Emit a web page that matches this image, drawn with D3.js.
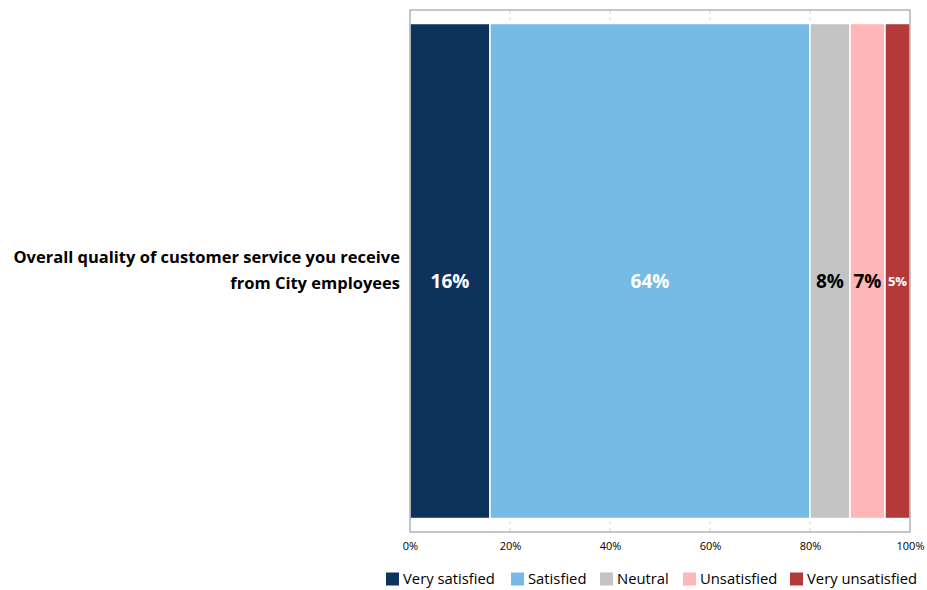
<!DOCTYPE html>
<html>
<head>
<meta charset="utf-8">
<script src="https://cdn.jsdelivr.net/npm/d3@7"></script>
<style>
  html, body { margin: 0; padding: 0; background: #fff; }
  svg { display: block; font-family: "Open Sans", "Noto Sans", sans-serif; }
</style>
</head>
<body>
<svg id="chart" width="927" height="590"></svg>
<script>
// Survey question (one stacked bar)
const questions = ["Overall quality of customer service you receive from City employees"];
const questionLines = [["Overall quality of customer service you receive", "from City employees"]];

// Response categories, shares (%) and colours
const responses = ["Very satisfied", "Satisfied", "Neutral", "Unsatisfied", "Very unsatisfied"];
const shares = [16, 64, 8, 7, 5];
const colors = ["#0d335d", "#75bbe5", "#c4c4c4", "#ffb6b6", "#b43a3a"];
const labelColors = ["#ffffff", "#ffffff", "#000000", "#000000", "#ffffff"];
const labelSizes = [19, 19, 19, 19, 13];

// Axis ticks
const tickValues = [0, 20, 40, 60, 80, 100];

const svg = d3.select("#chart");
const plot = { left: 410, right: 910, top: 10, bottom: 532 };

const x = d3.scaleLinear().domain([0, 100]).range([plot.left, plot.right]);
const y = d3.scaleBand().domain(questions).range([plot.top, plot.bottom]).padding(0.0265);

// Dashed vertical gridlines
svg.append("g")
  .selectAll("line")
  .data(tickValues.slice(1, -1))
  .join("line")
  .attr("x1", d => x(d)).attr("x2", d => x(d))
  .attr("y1", plot.top).attr("y2", plot.bottom)
  .attr("stroke", "#d9d9d9")
  .attr("stroke-width", 1)
  .attr("stroke-dasharray", "4,3");

// Stack the shares
const stacked = [];
let acc = 0;
shares.forEach((v, i) => { stacked.push({ key: responses[i], v, x0: acc, x1: acc + v, i }); acc += v; });

const q = questions[0];
svg.append("g")
  .selectAll("rect")
  .data(stacked)
  .join("rect")
  .attr("x", d => x(d.x0))
  .attr("width", d => x(d.x1) - x(d.x0))
  .attr("y", y(q))
  .attr("height", y.bandwidth())
  .attr("fill", d => colors[d.i])
  .attr("stroke", "#ffffff")
  .attr("stroke-width", 1.5);

// Value labels (sit slightly below the bar's middle)
svg.append("g")
  .selectAll("text")
  .data(stacked)
  .join("text")
  .attr("x", d => x((d.x0 + d.x1) / 2))
  .attr("y", y(q) + y.bandwidth() / 2 + 10)
  .attr("dy", "0.36em")
  .attr("text-anchor", "middle")
  .attr("font-weight", "bold")
  .attr("font-size", d => labelSizes[d.i])
  .attr("fill", d => labelColors[d.i])
  .text(d => d.v + "%");

// Plot frame
svg.append("rect")
  .attr("x", plot.left).attr("y", plot.top)
  .attr("width", plot.right - plot.left).attr("height", plot.bottom - plot.top)
  .attr("fill", "none")
  .attr("stroke", "#8c8c8c")
  .attr("stroke-width", 1);

// X axis labels
const xAxis = d3.axisBottom(x).tickValues(tickValues).tickFormat(d => d + "%").tickSize(0).tickPadding(10);
const gx = svg.append("g").attr("transform", `translate(0,${plot.bottom})`).call(xAxis);
gx.select(".domain").remove();
gx.selectAll("text").attr("font-size", 11).attr("fill", "#000").attr("font-family", "Open Sans, sans-serif");

// Category label
const catText = svg.append("text")
  .attr("text-anchor", "end")
  .attr("font-weight", "bold")
  .attr("font-size", 16.5)
  .attr("fill", "#000");
questionLines[0].forEach((line, k) => {
  catText.append("tspan")
    .attr("x", 400)
    .attr("y", y(q) + y.bandwidth() / 2 - 8 + k * 26)
    .text(line);
});

// Legend
const legendX = [386, 511, 600, 683, 790];
const lg = svg.append("g").attr("transform", "translate(0,579)");
const items = lg.selectAll("g").data(responses).join("g")
  .attr("transform", (d, i) => `translate(${legendX[i]},0)`);
items.append("rect")
  .attr("x", 0).attr("y", -6.5).attr("width", 13).attr("height", 13)
  .attr("fill", (d, i) => colors[i]);
items.append("text")
  .attr("x", 17).attr("dy", "0.36em")
  .attr("font-size", 14.8)
  .attr("fill", "#000")
  .text(d => d);
</script>
</body>
</html>
